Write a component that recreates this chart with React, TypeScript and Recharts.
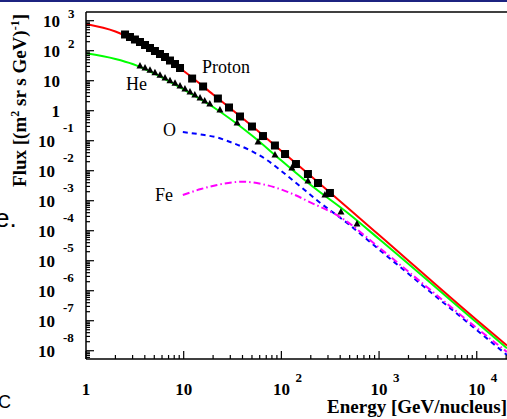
import React from 'react'
import {
  ComposedChart,
  Line,
  Scatter,
  XAxis,
  YAxis,
  ReferenceLine
} from 'recharts'

const X_MIN = 1
const X_MAX = 20400
const Y_MIN = 5.3e-9
const Y_MAX = 1950

// fitted curves (GeV/nucleus, flux)
const FIT_E = [1, 2, 3, 5, 10, 20, 50, 100, 200, 500, 1000, 10000, 20400]
const PROTON_FIT = [776, 437, 244, 97.7, 21, 3.47, 0.309, 0.0454, 6.65e-3, 5.1e-4, 7.2e-5, 1.05e-7, 1.49e-8]
const HE_FIT = [81.8, 52.9, 36, 17.4, 5.09, 1.33, 0.149, 0.0219, 3.34e-3, 3.47e-4, 5.3e-5, 8.7e-8, 1.2e-8]

const O_E = [9.8, 15, 22, 30, 47, 70, 100, 150, 230, 500, 1000, 3000, 10000, 20400]
const O_FIT = [0.195, 0.161, 0.128, 0.0906, 0.049, 0.0236, 9.77e-3, 3.34e-3, 1.05e-3, 1.55e-4, 2.36e-5, 1.23e-6, 4.9e-8, 7.2e-9]

const FE_E = [9.8, 15, 22, 40, 70, 120, 200, 400, 1000, 3000, 10000, 20400]
const FE_FIT = [1.55e-3, 2.45e-3, 3.34e-3, 4.3e-3, 3.34e-3, 1.88e-3, 8.7e-4, 2.86e-4, 2.75e-5, 1.44e-6, 5.7e-8, 9.1e-9]

// measured points
const PROTON_E = [2.51, 2.82, 3.17, 3.57, 4.02, 4.52, 5.08, 5.72, 6.44, 7.24, 8.15, 9.17, 12.2, 15.8, 22.4, 29.1, 37.7, 50, 64.8, 85.9, 109, 141, 187, 237, 314]
const PROTON_F = [347, 286, 236, 195, 155, 123, 97.7, 77.6, 61.7, 47.1, 36, 26.5, 11.8, 6.41, 2.55, 1.28, 0.641, 0.297, 0.143, 0.0692, 0.036, 0.0167, 7.76e-3, 3.89e-3, 1.81e-3]

const HE_E = [3.57, 4.02, 4.52, 5.08, 5.72, 6.44, 7.24, 8.15, 9.17, 10.3, 11.6, 13, 14.7, 16.4, 18.5, 23.5, 35.2, 57.7, 86, 128, 187, 279, 407, 594]
const HE_F = [30.9, 26.5, 22.2, 18.3, 15.1, 12.3, 10, 8.19, 6.65, 5.33, 4.24, 3.37, 2.67, 2.1, 1.67, 1.05, 0.389, 0.0906, 0.0334, 0.0123, 4.54e-3, 1.55e-3, 4.2e-4, 1.67e-4]

const DECADES_X = [1, 10, 100, 1000, 10000]
const DECADES_Y = [1e-9, 1e-8, 1e-7, 1e-6, 1e-5, 1e-4, 1e-3, 1e-2, 1e-1, 1, 10, 100, 1000]
const MULTS = [1, 2, 3, 4, 5, 6, 7, 8, 9]

const X_TICKS = DECADES_X.flatMap(d => MULTS.map(m => d * m)).filter(v => v <= X_MAX)
const Y_TICKS = DECADES_Y.flatMap(d => MULTS.map(m => d * m)).filter(v => v >= Y_MIN && v <= Y_MAX)

const pts = (es: number[], fs: number[]) => es.map((e, i) => ({ e, f: fs[i] }))

const SERIF = 'Liberation Serif, Times New Roman, serif'

function decade (v: number) {
  const l = Math.log10(v)
  const k = Math.round(l)
  return { k, major: Math.abs(l - k) < 1e-6 }
}

const XTick = (props: any) => {
  const { x, y, payload } = props
  const { k, major } = decade(payload.value)
  return (
    <g>
      <line x1={x} x2={x} y1={y} y2={y - (major ? 8 : 4)} stroke='#000' strokeWidth={1.2} />
      {major && k === 0 && (
        <text x={x} y={y + 36} textAnchor='middle' fontFamily={SERIF} fontWeight='bold' fontSize={17}>1</text>
      )}
      {major && k === 1 && (
        <text x={x} y={y + 36} textAnchor='middle' fontFamily={SERIF} fontWeight='bold' fontSize={17}>10</text>
      )}
      {major && k > 1 && (
        <g fontFamily={SERIF} fontWeight='bold'>
          <text x={x} y={y + 36} textAnchor='middle' fontSize={17}>10</text>
          <text x={x + 14} y={y + 23} fontSize={13}>{k}</text>
        </g>
      )}
    </g>
  )
}

const YTick = (props: any) => {
  const { x, y, payload } = props
  const { k, major } = decade(payload.value)
  return (
    <g>
      <line x1={x} x2={x + (major ? 8 : 4)} y1={y} y2={y} stroke='#000' strokeWidth={1.2} />
      {major && (k === 0 || k === 1) && (
        <text x={x - 26} y={y + 6} textAnchor='end' fontFamily={SERIF} fontWeight='bold' fontSize={17}>
          {k === 0 ? '1' : '10'}
        </text>
      )}
      {major && k !== 0 && k !== 1 && (
        <g fontFamily={SERIF} fontWeight='bold'>
          <text x={x - (k < 0 ? 31 : 26)} y={y + 6} textAnchor='end' fontSize={17}>10</text>
          <text x={x - (k < 0 ? 23 : 18)} y={y - (k < 0 ? 9 : 3)} fontSize={13}>{k}</text>
        </g>
      )}
    </g>
  )
}

const Square = (props: any) => (
  <rect x={props.cx - 4} y={props.cy - 4} width={8} height={8} fill='#000' />
)

const Triangle = (props: any) => {
  const { cx, cy } = props
  return <polygon points={`${cx},${cy - 4} ${cx - 3.5},${cy + 2.5} ${cx + 3.5},${cy + 2.5}`} fill='#000' />
}

export default function App () {
  return (
    <div style={{ position: 'absolute', left: 0, top: 0, width: 507, height: 419, background: '#fff', overflow: 'hidden' }}>
      <ComposedChart width={507} height={419} margin={{ top: 12, right: 0, left: 0, bottom: 0 }}>
        <XAxis
          type='number'
          dataKey='e'
          scale='log'
          domain={[X_MIN, X_MAX]}
          allowDataOverflow
          ticks={X_TICKS}
          interval={0}
          tick={<XTick />}
          tickLine={false}
          tickSize={0}
          tickMargin={0}
          axisLine={{ stroke: '#000', strokeWidth: 1.5 }}
          height={60}
        />
        <YAxis
          type='number'
          scale='log'
          domain={[Y_MIN, Y_MAX]}
          allowDataOverflow
          ticks={Y_TICKS}
          interval={0}
          tick={<YTick />}
          tickLine={false}
          tickSize={0}
          tickMargin={0}
          axisLine={{ stroke: '#000', strokeWidth: 1.5 }}
          width={86}
        />
        <ReferenceLine y={Y_MAX} stroke='#000' strokeWidth={1.5} />
        <Scatter data={pts(PROTON_E, PROTON_F)} dataKey='f' shape={Square} isAnimationActive={false} />
        <Scatter data={pts(HE_E, HE_F)} dataKey='f' shape={Triangle} isAnimationActive={false} />
        <Line data={pts(O_E, O_FIT)} dataKey='f' type='monotone' stroke='#0000ff' strokeWidth={2} strokeDasharray='5 4' dot={false} isAnimationActive={false} />
        <Line data={pts(FE_E, FE_FIT)} dataKey='f' type='monotone' stroke='#ff00ff' strokeWidth={2} strokeDasharray='7 3 1.5 3' dot={false} isAnimationActive={false} />
        <Line data={pts(FIT_E, HE_FIT)} dataKey='f' type='monotone' stroke='#00ff00' strokeWidth={2} dot={false} isAnimationActive={false} />
        <Line data={pts(FIT_E, PROTON_FIT)} dataKey='f' type='monotone' stroke='#ff0000' strokeWidth={2} dot={false} isAnimationActive={false} />
      </ComposedChart>
      <svg width={507} height={419} style={{ position: 'absolute', left: 0, top: 0, pointerEvents: 'none' }}>
        <rect x={0} y={0} width={507} height={2} fill='#1c2380' />
        <g fontFamily={SERIF} fontSize={18} fill='#000'>
          <text x={202} y={73}>Proton</text>
          <text x={126} y={90}>He</text>
          <text x={163} y={136}>O</text>
          <text x={155} y={201}>Fe</text>
        </g>
        <text x={507} y={413} textAnchor='end' fontFamily={SERIF} fontWeight='bold' fontSize={19}>
          Energy [GeV/nucleus]
        </text>
        <text transform='rotate(-90)' x={-14} y={26} textAnchor='end' fontFamily={SERIF} fontWeight='bold' fontSize={19}>
          Flux [(m<tspan dy={-7} fontSize={12}>2</tspan><tspan dy={7}> sr s GeV)</tspan><tspan dy={-7} fontSize={12}>-1</tspan><tspan dy={7}>]</tspan>
        </text>
        <text x={-5} y={227} fontFamily='Liberation Sans, Arial, sans-serif' fontSize={26}>e.</text>
        <text x={-2} y={408} fontFamily='Liberation Sans, Arial, sans-serif' fontSize={18}>C</text>
      </svg>
    </div>
  )
}
